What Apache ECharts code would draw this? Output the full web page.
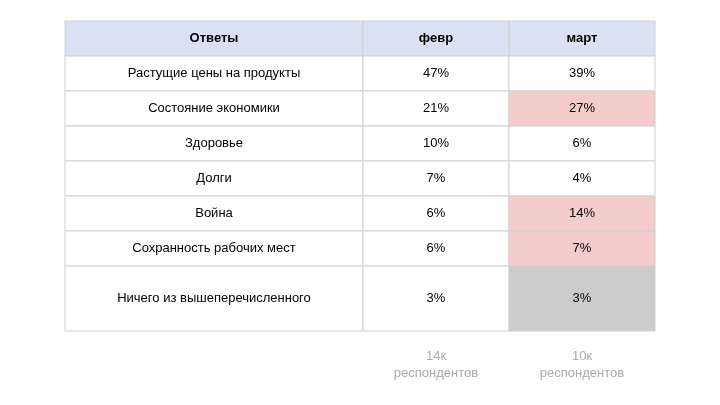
<!DOCTYPE html>
<html lang="ru">
<head>
<meta charset="UTF-8">
<title>Ответы</title>
<style>
  html, body { margin: 0; padding: 0; background: #fff; }
  #chart { width: 720px; height: 405px; }
</style>
<script src="https://cdn.jsdelivr.net/npm/echarts@6/dist/echarts.min.js"></script>
</head>
<body>
<div id="chart"></div>
<script>
// данные таблицы
var headers = ['Ответы', 'февр', 'март'];
var answers = ['Растущие цены на продукты', 'Состояние экономики', 'Здоровье', 'Долги',
               'Война', 'Сохранность рабочих мест', 'Ничего из вышеперечисленного'];
var feb = [47, 21, 10, 7, 6, 6, 3];
var mar = [39, 27, 6, 4, 14, 7, 3];
var marMark = ['', 'up', '', '', 'up', 'up', 'none'];
var respondents = ['14к\nреспондентов', '10к\nреспондентов'];

// раскладка
var colWidths = [298, 146, 146];
var rowHeights = [35, 35, 35, 35, 35, 35, 35, 65, 60];
var markFill = { '': '#ffffff', up: '#f4cccc', none: '#cccccc' };

var colEdges = [0], rowEdges = [0];
colWidths.forEach(function (w, i) { colEdges.push(colEdges[i] + w); });
rowHeights.forEach(function (h, i) { rowEdges.push(rowEdges[i] + h); });

// ячейки: [колонка, строка, текст, вид]
var cells = [];
headers.forEach(function (h, c) { cells.push([c, 0, h, 'head']); });
answers.forEach(function (a, r) {
  cells.push([0, r + 1, a, '']);
  cells.push([1, r + 1, feb[r] + '%', '']);
  cells.push([2, r + 1, mar[r] + '%', marMark[r]]);
});
respondents.forEach(function (t, i) { cells.push([i + 1, answers.length + 1, t, 'foot']); });

var chart = echarts.init(document.getElementById('chart'));
chart.setOption({
  animation: false,
  grid: { left: 65, top: 21, width: colEdges[3], height: rowEdges[rowEdges.length - 1] },
  xAxis: { type: 'value', min: 0, max: colEdges[3], show: false },
  yAxis: { type: 'value', min: 0, max: rowEdges[rowEdges.length - 1], inverse: true, show: false },
  series: [{
    type: 'custom',
    data: cells,
    renderItem: function (params, api) {
      var c = api.value(0), r = api.value(1);
      var kind = cells[params.dataIndex][3];
      var text = cells[params.dataIndex][2];
      var p0 = api.coord([colEdges[c], rowEdges[r]]);
      var p1 = api.coord([colEdges[c + 1], rowEdges[r + 1]]);
      var foot = kind === 'foot';
      var fill = kind === 'head' ? '#dae1f3' : (foot ? 'transparent' : markFill[kind]);
      return {
        type: 'group',
        children: [{
          type: 'rect',
          shape: { x: p0[0], y: p0[1], width: p1[0] - p0[0], height: p1[1] - p0[1] },
          style: { fill: fill, stroke: foot ? null : '#d0d0d0', lineWidth: 1 }
        }, {
          type: 'text',
          style: {
            text: text,
            x: (p0[0] + p1[0]) / 2,
            y: foot ? p0[1] + 34 : (p0[1] + p1[1]) / 2,
            align: 'center',
            verticalAlign: 'middle',
            fontFamily: 'Liberation Sans, Arial, sans-serif',
            fontSize: 13,
            lineHeight: 17,
            fontWeight: kind === 'head' ? 'bold' : 'normal',
            fill: foot ? '#aaaaaa' : '#000000'
          }
        }]
      };
    }
  }]
});
</script>
</body>
</html>
